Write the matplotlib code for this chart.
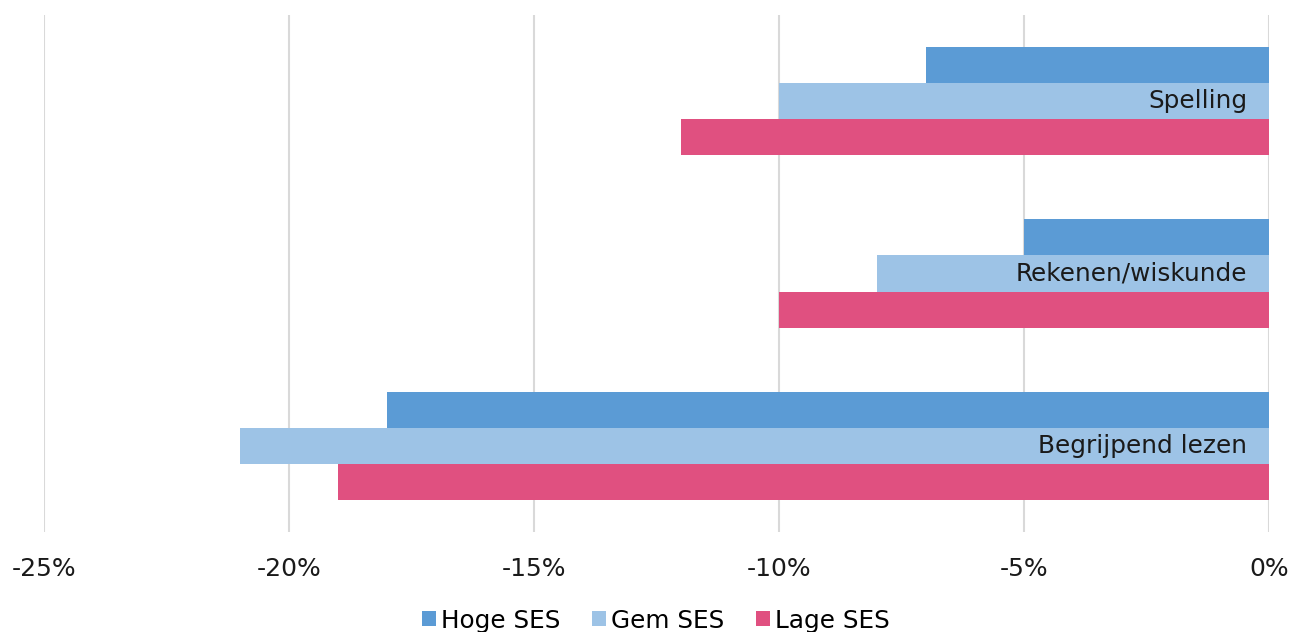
import matplotlib
matplotlib.use("Agg")
import matplotlib.pyplot as plt
import numpy as np

categories = ["Spelling", "Rekenen/wiskunde", "Begrijpend lezen"]
series_names = ["Hoge SES", "Gem SES", "Lage SES"]
hoge = [-7, -5, -18]
gem = [-10, -8, -21]
lage = [-12, -10, -19]
colors = ["#5B9BD5", "#9DC3E6", "#E05080"]
xticks = [-25, -20, -15, -10, -5, 0]
xtick_labels = ["-25%", "-20%", "-15%", "-10%", "-5%", "0%"]

plt.rcParams['font.family'] = ['DejaVu Sans']

fig = plt.figure(figsize=(12.94, 6.32), dpi=100)
ax = fig.add_axes([44/1294, 1-532/632, (1269-44)/1294, (532-15)/632])

y = np.arange(len(categories))
h = 0.209
for i, (vals, name, c) in enumerate(zip([hoge, gem, lage], series_names, colors)):
    ax.barh(y + (i-1)*h, vals, height=h, color=c, label=name, zorder=3)

for yi, cat in zip(y, categories):
    ax.annotate(cat, xy=(0, yi), xytext=(-15.5, 0), textcoords='offset points',
                ha='right', va='center', fontsize=17.8, color='#1a1a1a', zorder=4)

ax.set_xlim(-25, 0)
ax.set_ylim(2.5, -0.5)
ax.set_xticks(xticks)
ax.set_xticklabels(xtick_labels, fontsize=18, color='#1a1a1a')
ax.set_yticks([])
ax.tick_params(axis='x', length=0, pad=18)
ax.grid(axis='x', color='#D9D9D9', linewidth=1.5, zorder=0)
for s in ax.spines.values():
    s.set_visible(False)

fig.legend(loc='lower center', bbox_to_anchor=(0.507, -0.036), ncol=3, frameon=False,
           fontsize=17.8, handlelength=0.55, handleheight=0.55, handletextpad=0.2,
           columnspacing=1.3)

fig.savefig("out.png", dpi=100)
